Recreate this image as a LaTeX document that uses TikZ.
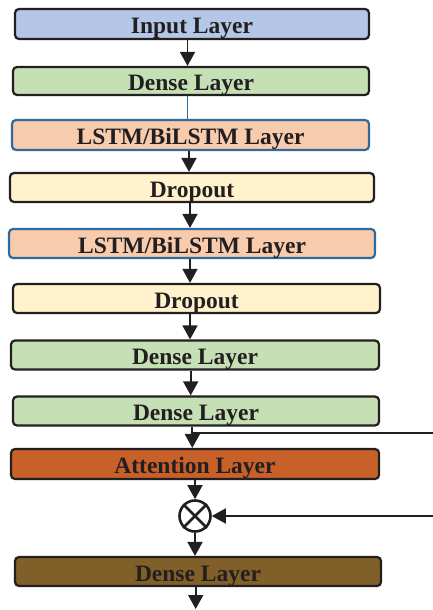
\documentclass[tikz,border=0pt]{standalone}
\usepackage{fontspec}
\setmainfont{Liberation Serif}
\usetikzlibrary{arrows.meta}

\definecolor{ink}{HTML}{231F20}
\definecolor{inblue}{HTML}{B4C7E7}
\definecolor{dgreen}{HTML}{C5E0B4}
\definecolor{lpeach}{HTML}{F8CBAD}
\definecolor{lborder}{HTML}{2F6A9E}
\definecolor{dyellow}{HTML}{FFF2CC}
\definecolor{attorange}{HTML}{C8602A}
\definecolor{obrown}{HTML}{806028}

\begin{document}
\begin{tikzpicture}[x=1pt, y=-1pt,
    layer/.style={rectangle, rounded corners=4pt, draw=ink, line width=2.2pt,
        text=ink, font=\fontsize{23.5}{24}\bfseries, inner sep=0pt,
        text height=19pt, text depth=0pt},
    arr/.style={draw=ink, line width=1.8pt, -{Triangle[length=14pt, width=15pt]}}]
    \useasboundingbox (0, 0) rectangle (433, 610);
    \node[layer, fill=inblue, minimum width=354pt, minimum height=30pt] (0) at (192, 24) {Input Layer};
    \node[layer, fill=dgreen, minimum width=356pt, minimum height=28pt] (1) at (191, 81) {Dense Layer};
    \node[layer, fill=lpeach, draw=lborder, minimum width=357pt, minimum height=30pt] (2) at (190.5, 135) {LSTM/BiLSTM Layer};
    \node[layer, fill=dyellow, minimum width=364pt, minimum height=29pt] (3) at (192, 187.5) {Dropout};
    \node[layer, fill=lpeach, draw=lborder, minimum width=366pt, minimum height=29pt] (4) at (192, 243.5) {LSTM/BiLSTM Layer};
    \node[layer, fill=dyellow, minimum width=367pt, minimum height=29pt] (5) at (196.5, 298.5) {Dropout};
    \node[layer, fill=dgreen, minimum width=368pt, minimum height=29pt] (6) at (195, 355) {Dense Layer};
    \node[layer, fill=dgreen, minimum width=366pt, minimum height=29pt] (7) at (196, 411) {Dense Layer};
    \node[layer, fill=attorange, minimum width=368pt, minimum height=30pt] (8) at (195, 464) {Attention Layer};
    \node[circle, draw=ink, line width=2.6pt, minimum size=31pt, inner sep=0pt] (9) at (195, 516) {};
    \node[layer, fill=obrown, minimum width=366pt, minimum height=29pt] (10) at (198, 571.5) {Dense Layer};
    \coordinate (s0) at (433, 433);
    \coordinate (s1) at (433, 516);
    \coordinate (out) at (195.7, 609);
    % cross inside the product node
    \draw[ink, line width=2.6pt] (9.north east) -- (9.south west) (9.north west) -- (9.south east);
    \draw[arr] ([xshift=-4.5pt]0.south) -- ([xshift=-4.5pt]0.south |- 1.north);
    \draw[lborder, line width=1.8pt] ([xshift=-3.5pt]1.south) -- ([xshift=-3.5pt]1.south |- 2.north);
    \draw[arr] ([xshift=-1.5pt]2.south) -- ([xshift=-1.5pt]2.south |- 3.north);
    \draw[arr] ([xshift=-2pt]3.south) -- ([xshift=-2pt]3.south |- 4.north);
    \draw[arr] ([xshift=-2pt]4.south) -- ([xshift=-2pt]4.south |- 5.north);
    \draw[arr] ([xshift=-6.5pt]5.south) -- ([xshift=-6.5pt]5.south |- 6.north);
    \draw[arr] ([xshift=-4.3pt]6.south) -- ([xshift=-4.3pt]6.south |- 7.north);
    \draw[arr] ([xshift=-3.7pt]7.south) -- ([xshift=-3.7pt]7.south |- 8.north);
    \draw[ink, line width=1.8pt] (s0) -- ([xshift=-3.7pt]s0 -| 7.south);
    \draw[arr] (8.south) -- (9.north);
    \draw[arr] (s1) -- (9.east);
    \draw[arr] (9.south) -- (9.south |- 10.north);
    \draw[arr] (10.south -| out) -- (out);
\end{tikzpicture}
\end{document}
